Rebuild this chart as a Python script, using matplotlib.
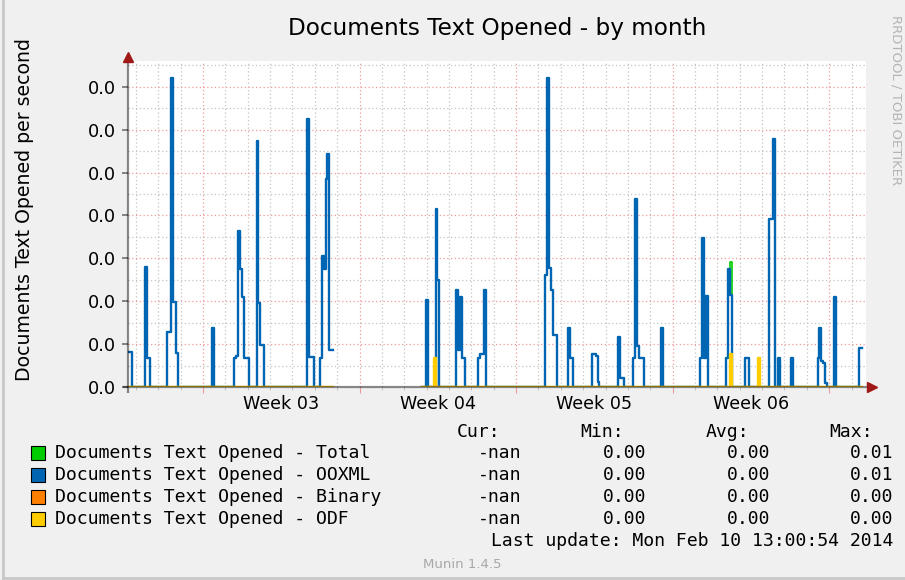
import numpy as np
import matplotlib
matplotlib.use('Agg')
import matplotlib.pyplot as plt
import matplotlib.dates as mdates
from matplotlib.ticker import MultipleLocator, FormatStrFormatter
from matplotlib.patches import Rectangle
from datetime import datetime, timedelta

# 2-hour samples over the 33 day "month" window
start = datetime(2014, 1, 8, 15, 30)
n_samples = 396
gap_samples = list(range(110, 158)) + [394, 395]   # no data (nan)

# OOXML: sample index -> documents opened per second (x 1e-3)
ooxml_idx = [0, 1, 9, 10, 11, 21, 22, 23, 24, 25, 26, 45,
             57, 58, 59, 60, 61, 62, 63, 64, 69, 70, 71, 72,
             96, 97, 98, 99, 103, 104, 105, 106, 107, 108, 109,
             160, 165, 166, 176, 177, 178, 179, 180, 188, 189, 190, 191,
             224, 225, 226, 227, 228, 229, 236, 237, 238,
             249, 250, 251, 252, 263, 264, 265, 271, 272, 273, 274, 275, 276,
             286, 307, 308, 309, 310, 321, 322, 323, 331, 332,
             344, 345, 346, 349, 356, 370, 371, 372, 373, 374, 379, 392, 393]
ooxml_val = [0.82, 0.82, 2.80, 0.68, 0.68, 1.29, 1.29, 7.20, 1.98, 1.98, 0.80, 1.38,
             0.68, 0.73, 3.63, 2.76, 2.09, 0.68, 0.68, 0.68, 5.74, 1.96, 0.99, 0.99,
             6.25, 0.70, 0.70, 0.70, 0.68, 3.05, 2.76, 4.85, 5.43, 0.86, 0.86,
             2.02, 4.16, 2.49, 2.27, 0.86, 2.10, 0.68, 0.68, 0.68, 0.76, 0.76, 2.27,
             2.60, 7.20, 2.78, 2.26, 1.21, 1.21, 1.38, 0.68, 0.68,
             0.77, 0.77, 0.72, 0.12, 1.17, 0.20, 0.20, 0.68, 4.39, 0.95, 0.68, 0.68, 0.68,
             1.38, 0.68, 3.47, 0.68, 2.12, 0.68, 2.74, 2.14, 0.68, 0.68,
             3.92, 3.92, 5.78, 0.68, 0.68, 0.68, 1.38, 0.60, 0.55, 0.10, 2.10, 0.90, 0.90]

# ODF
odf_idx = [164, 323, 338]
odf_val = [0.68, 0.78, 0.68]

series_names = ['Documents Text Opened - Total', 'Documents Text Opened - OOXML',
                'Documents Text Opened - Binary', 'Documents Text Opened - ODF']
series_colors = ['#00CC00', '#0066B3', '#FF8000', '#FFCC00']
series_lw = [1.2, 1.7, 1.2, 1.7]
cur_vals = ['-nan', '-nan', '-nan', '-nan']
min_vals = ['0.00', '0.00', '0.00', '0.00']
avg_vals = ['0.00', '0.00', '0.00', '0.00']
max_vals = ['0.01', '0.01', '0.00', '0.00']

times = np.array([start + timedelta(hours=2 * i) for i in range(n_samples + 1)])
ooxml = np.zeros(n_samples)
ooxml[ooxml_idx] = np.array(ooxml_val) * 1e-3
odf = np.zeros(n_samples)
odf[odf_idx] = np.array(odf_val) * 1e-3
binary = np.zeros(n_samples)
for s in (ooxml, odf, binary):
    s[gap_samples] = np.nan
total = ooxml + binary + odf

W, H = 905, 580
fig = plt.figure(figsize=(W / 100, H / 100), dpi=100, facecolor='#F0F0F0')
ax = fig.add_axes([128 / W, 1 - 387 / H, 738 / W, 326 / H])
ax.set_facecolor('white')


def fx(x):
    return x / W


def fy(y):
    return 1 - y / H


for vals, col, lw in zip([total, ooxml, binary, odf], series_colors, series_lw):
    ax.plot(times, np.append(vals, vals[-1]), drawstyle='steps-post',
            color=col, lw=lw, zorder=2)

x0 = mdates.date2num(start)
x1 = mdates.date2num(start + timedelta(days=33))
ax.set_xlim(x0, x1)
ax.set_ylim(0, 7.6e-3)

ax.xaxis.set_minor_locator(mdates.DayLocator())
ax.xaxis.set_major_locator(mdates.WeekdayLocator(byweekday=mdates.SU))
ax.xaxis.set_major_formatter(plt.NullFormatter())
ax.xaxis.set_minor_formatter(plt.NullFormatter())
ax.yaxis.set_major_locator(MultipleLocator(0.001))
ax.yaxis.set_minor_locator(MultipleLocator(0.0005))
ax.yaxis.set_major_formatter(FormatStrFormatter('%.1f'))

ax.grid(which='minor', color='#c4c4c4', linestyle=(0, (1, 2)), lw=0.9)
ax.grid(which='major', color='#f09a9a', linestyle=(0, (1, 2)), lw=0.9)
ax.set_axisbelow(True)

ax.tick_params(axis='y', which='major', direction='out', length=4.3, width=1.2,
               color='#707070', labelsize=12.8, pad=4, labelcolor='black')
ax.tick_params(axis='y', which='minor', length=0)
ax.tick_params(axis='x', which='minor', direction='out', length=2.5, color='#b8b8b8')
ax.tick_params(axis='x', which='major', direction='out', length=4.5, color='#f09a9a')
for sp in ax.spines.values():
    sp.set_visible(False)

# axis lines with arrows
axis_col = (0, 0, 0, 0.45)
ax.plot([-0.007, 1.003], [0, 0], transform=ax.transAxes, color=axis_col, lw=1.6,
        clip_on=False, zorder=5, solid_capstyle='butt')
ax.plot([0, 0], [-0.018, 1.005], transform=ax.transAxes, color=axis_col, lw=1.6,
        clip_on=False, zorder=5, solid_capstyle='butt')
ax.plot(1.0077, 0, marker='>', color='#a01818', ms=7.5, transform=ax.transAxes,
        clip_on=False, zorder=6)
ax.plot(0.0, 1.013, marker='^', color='#a01818', ms=7.5, transform=ax.transAxes,
        clip_on=False, zorder=6)

# week labels centred in each week
for w in ax.xaxis.get_majorticklocs():
    mid = w + 3.5
    if x0 < mid < x1:
        ax.text(mid, -0.052, mdates.num2date(mid).strftime('Week %V'),
                transform=ax.get_xaxis_transform(), ha='center', va='center',
                fontsize=12.6)

fig.text(fx(497), fy(28), 'Documents Text Opened - by month', ha='center', va='center',
         fontsize=16.7)
fig.text(fx(25), fy(210), 'Documents Text Opened per second', rotation=90,
         ha='center', va='center', fontsize=13.6)
fig.text(fx(896), fy(100), 'RRDTOOL / TOBI OETIKER', rotation=270, ha='center',
         va='center', fontsize=9.5, color='#b4b4b4')

# legend block
mono = 'DejaVu Sans Mono'
lsize = 13.1
for x, lab in zip([457, 580, 706, 829], ['Cur:', 'Min:', 'Avg:', 'Max:']):
    fig.text(fx(x), fy(432), lab, ha='left', va='center', family=mono, fontsize=lsize)
row_y = [453, 475, 497, 519]
for i, y in enumerate(row_y):
    fig.patches.append(Rectangle((fx(31), fy(y + 7)), 14 / W, 14 / H,
                                 transform=fig.transFigure, facecolor=series_colors[i],
                                 edgecolor='black', lw=0.8))
    fig.text(fx(55), fy(y), series_names[i], ha='left', va='center', family=mono,
             fontsize=lsize)
    for x, vals in zip([521, 646, 770, 893], [cur_vals, min_vals, avg_vals, max_vals]):
        fig.text(fx(x), fy(y), vals[i], ha='right', va='center', family=mono,
                 fontsize=lsize)
fig.text(fx(893), fy(541), 'Last update: Mon Feb 10 13:00:54 2014', ha='right',
         va='center', family=mono, fontsize=lsize)
fig.text(fx(462), fy(565), 'Munin 1.4.5', ha='center', va='center', fontsize=9.5,
         color='#a8a8a8')

# frame edges
fig.add_artist(plt.Line2D([fx(3), fx(3)], [0, 1], color='#c8c8c8', lw=2))
fig.add_artist(plt.Line2D([fx(3), 1], [fy(578), fy(578)], color='#c8c8c8', lw=2))

fig.savefig('out.png', dpi=100, facecolor=fig.get_facecolor())
